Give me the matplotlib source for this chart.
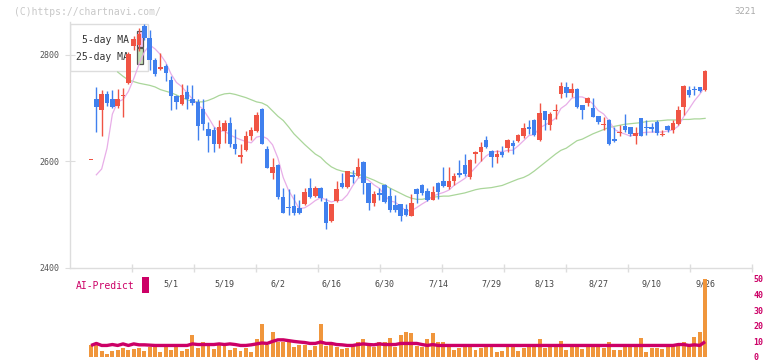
import numpy as np
import pandas as pd
import matplotlib
matplotlib.use("Agg")
import matplotlib.pyplot as plt
from matplotlib.patches import Rectangle

# ---------------- data ----------------
opens = [2603, 2717, 2697, 2727, 2717, 2704, 2723, 2747, 2816, 2818,
         2854, 2831, 2791, 2774, 2779, 2753, 2723, 2708, 2731, 2717,
         2712, 2699, 2661, 2659, 2633, 2657, 2672, 2633, 2609, 2622,
         2647, 2658, 2699, 2623, 2579, 2594, 2534, 2515, 2516, 2513,
         2520, 2550, 2536, 2550, 2524, 2488, 2526, 2560, 2552, 2574,
         2573, 2599, 2559, 2522, 2540, 2556, 2536, 2518, 2520, 2511,
         2498, 2548, 2555, 2545, 2528, 2560, 2563, 2552, 2564, 2579,
         2593, 2570, 2614, 2618, 2640, 2620, 2609, 2618, 2626, 2634,
         2639, 2648, 2665, 2678, 2640, 2694, 2669, 2695, 2726, 2739,
         2728, 2737, 2706, 2710, 2701, 2685, 2669, 2678, 2642, 2654,
         2667, 2664, 2647, 2681, 2664, 2664, 2675, 2650, 2667, 2659,
         2670, 2703, 2734, 2737, 2739, 2734]
highs = [2603, 2740, 2734, 2732, 2734, 2736, 2738, 2805, 2835, 2850,
         2858, 2847, 2795, 2804, 2783, 2761, 2725, 2745, 2744, 2744,
         2718, 2717, 2674, 2665, 2678, 2678, 2684, 2661, 2633, 2658,
         2665, 2693, 2700, 2629, 2607, 2596, 2551, 2548, 2539, 2528,
         2551, 2569, 2554, 2552, 2531, 2521, 2563, 2579, 2583, 2584,
         2607, 2600, 2560, 2545, 2551, 2557, 2550, 2537, 2521, 2520,
         2539, 2550, 2557, 2550, 2554, 2562, 2590, 2590, 2579, 2603,
         2614, 2605, 2620, 2636, 2648, 2622, 2622, 2629, 2642, 2640,
         2652, 2673, 2678, 2680, 2710, 2695, 2693, 2708, 2750, 2750,
         2748, 2738, 2707, 2722, 2719, 2686, 2684, 2679, 2665, 2668,
         2689, 2665, 2664, 2682, 2678, 2672, 2677, 2660, 2669, 2678,
         2704, 2743, 2742, 2742, 2740, 2771]
lows = [2603, 2655, 2648, 2705, 2701, 2700, 2684, 2745, 2810, 2808,
        2828, 2772, 2760, 2771, 2752, 2697, 2699, 2706, 2699, 2706,
        2640, 2659, 2618, 2617, 2625, 2635, 2627, 2614, 2598, 2620,
        2641, 2655, 2632, 2587, 2567, 2530, 2503, 2500, 2500, 2502,
        2518, 2531, 2534, 2525, 2473, 2487, 2524, 2550, 2550, 2560,
        2571, 2539, 2508, 2517, 2528, 2522, 2506, 2506, 2489, 2498,
        2497, 2523, 2537, 2526, 2527, 2530, 2552, 2549, 2555, 2571,
        2572, 2568, 2598, 2601, 2626, 2590, 2598, 2608, 2618, 2614,
        2637, 2645, 2651, 2648, 2638, 2659, 2660, 2679, 2719, 2722,
        2722, 2700, 2679, 2705, 2683, 2670, 2660, 2631, 2637, 2648,
        2655, 2647, 2633, 2647, 2650, 2655, 2650, 2648, 2656, 2654,
        2668, 2687, 2722, 2724, 2731, 2732]
closes = [2603, 2702, 2727, 2710, 2703, 2717, 2725, 2802, 2830, 2840,
          2832, 2791, 2764, 2777, 2766, 2723, 2712, 2725, 2717, 2710,
          2667, 2670, 2648, 2633, 2665, 2672, 2633, 2623, 2612, 2648,
          2659, 2687, 2633, 2588, 2590, 2534, 2504, 2512, 2504, 2503,
          2542, 2534, 2550, 2531, 2485, 2520, 2548, 2552, 2582, 2570,
          2590, 2559, 2522, 2539, 2538, 2524, 2508, 2508, 2498, 2500,
          2523, 2539, 2541, 2528, 2543, 2543, 2554, 2563, 2573, 2575,
          2576, 2603, 2617, 2628, 2628, 2609, 2614, 2613, 2640, 2630,
          2650, 2662, 2661, 2650, 2692, 2678, 2689, 2697, 2742, 2728,
          2737, 2703, 2696, 2720, 2684, 2675, 2671, 2633, 2639, 2656,
          2659, 2651, 2654, 2648, 2662, 2661, 2653, 2652, 2659, 2672,
          2697, 2742, 2724, 2735, 2733, 2770]

# 5-day MA values shown before enough closes exist in this window
ma5_head = [np.nan, 2575, 2586, 2625]

# 25-day MA (line begins at 6th candle)
ma25 = [np.nan, np.nan, np.nan, np.nan, np.nan, 2768, 2760, 2753, 2750, 2747,
        2745, 2743, 2740, 2735, 2732, 2729, 2725, 2720, 2716, 2713,
        2712, 2712, 2715, 2719, 2724, 2727, 2728, 2726, 2723, 2720,
        2716, 2712, 2710, 2705, 2695, 2685, 2677, 2665, 2652, 2642,
        2632, 2623, 2614, 2608, 2598, 2590, 2585, 2582, 2580, 2578,
        2576, 2573, 2569, 2565, 2560, 2556, 2550, 2545, 2540, 2535,
        2531, 2529, 2529, 2531, 2533, 2534, 2535, 2535, 2537, 2539,
        2541, 2544, 2547, 2549, 2550, 2551, 2553, 2555, 2559, 2563,
        2567, 2570, 2575, 2582, 2590, 2598, 2606, 2614, 2621, 2625,
        2632, 2639, 2642, 2647, 2652, 2656, 2660, 2664, 2666, 2668,
        2670, 2671, 2672, 2673, 2675, 2676, 2676, 2677, 2678, 2678,
        2678, 2679, 2679, 2680, 2680, 2681]

volume = [7.4, 8.0, 3.6, 1.7, 3.6, 4.4, 5.5, 4.4, 5.1, 5.5,
          3.6, 6.6, 6.1, 3.0, 6.6, 4.2, 6.6, 3.6, 4.9, 14.4,
          5.5, 9.9, 7.2, 4.9, 7.4, 7.4, 4.4, 5.5, 3.6, 5.5,
          3.0, 11.8, 21.3, 8.0, 16.3, 9.3, 9.9, 9.9, 6.1, 8.0,
          8.0, 4.4, 6.8, 21.3, 6.8, 8.0, 6.1, 4.9, 5.5, 8.0,
          9.9, 11.8, 8.0, 6.6, 9.3, 9.9, 12.4, 6.6, 14.4, 16.3,
          15.4, 7.0, 6.6, 11.8, 15.6, 9.9, 9.3, 6.6, 4.2, 5.5,
          7.4, 7.4, 4.2, 5.5, 6.8, 6.8, 3.0, 3.6, 7.4, 7.4,
          3.6, 5.5, 6.8, 6.8, 11.8, 5.5, 6.8, 6.8, 10.5, 4.2,
          6.8, 6.8, 4.9, 6.8, 6.8, 6.8, 5.5, 9.9, 4.2, 4.2,
          6.8, 6.8, 6.8, 12.4, 3.0, 5.5, 5.5, 4.9, 6.8, 6.8,
          6.8, 9.3, 8.6, 13.1, 16.3, 49.8]

ai_line = [7.4, 8.7, 7.4, 7.4, 8.0, 7.4, 8.4, 7.4, 8.4, 7.8,
           7.8, 7.6, 7.4, 7.4, 7.4, 7.4, 7.4, 7.4, 7.4, 8.4,
           8.0, 8.0, 8.0, 8.0, 8.4, 8.0, 8.4, 8.0, 7.4, 7.4,
           7.8, 8.4, 9.0, 8.7, 10.0, 11.0, 11.0, 10.5, 10.0, 9.6,
           9.3, 8.7, 8.7, 9.6, 8.7, 8.7, 8.0, 7.8, 7.4, 7.4,
           8.0, 8.4, 8.0, 7.8, 8.4, 8.0, 8.0, 8.0, 8.7, 8.7,
           8.7, 8.7, 8.0, 7.4, 8.0, 7.4, 7.4, 7.4, 7.4, 7.4,
           7.4, 7.4, 7.4, 7.4, 7.4, 7.4, 7.4, 7.4, 7.4, 7.4,
           7.4, 7.4, 7.4, 7.4, 7.4, 7.4, 7.4, 7.4, 7.4, 7.4,
           7.4, 7.4, 7.4, 7.4, 7.4, 7.4, 7.4, 7.4, 7.4, 7.4,
           7.4, 7.4, 7.4, 7.4, 7.4, 7.4, 7.4, 7.4, 7.4, 7.4,
           8.0, 8.0, 7.4, 7.8, 7.4, 9.8]

tick_idx = [15, 25, 35, 45, 55, 65, 75, 85, 95, 105, 115]
tick_labels = ["5/1", "5/19", "6/2", "6/16", "6/30", "7/14", "7/29",
               "8/13", "8/27", "9/10", "9/26"]
price_ticks = [2400, 2600, 2800]
vol_ticks = [0, 10, 20, 30, 40, 50]

# ---------------- styling ----------------
W, H = 772, 361
RED = "#f05444"
BLUE = "#4080ee"
MAG = "#cc0066"
MONO = "DejaVu Sans Mono"

o = np.array(opens, float); h = np.array(highs, float)
l = np.array(lows, float); c = np.array(closes, float)
n = len(c)
idx = np.arange(n)

ma5 = pd.Series(c).rolling(5).mean().to_numpy()
ma5[:len(ma5_head)] = ma5_head

fig = plt.figure(figsize=(W / 100, H / 100), dpi=100)

def fx(px):
    return px / W

def fy(py):
    return 1 - py / H

# pixel layout: axes spans x 70..752, candle 0 at x=91, 5.34 px per candle
x0_px, x1_px, c0_px, step_px = 70, 752, 91, 5.34
xlim = ((x0_px - c0_px) / step_px, (x1_px - c0_px) / step_px)

ax = fig.add_axes([fx(70), fy(268), fx(682), 246 / H])
ax.patch.set_visible(False)
ax.set_xlim(*xlim)
ax.set_ylim(2400, 2400 + 246 / 0.5325)

# legend box (beneath chart marks)
ax.add_patch(Rectangle((fx(70), fy(71)), fx(78), 47 / H, transform=fig.transFigure,
                       facecolor="white", edgecolor="#dddddd", lw=1, zorder=1))
ax.text(fx(129), fy(40), "5-day MA", transform=fig.transFigure, ha="right", va="center",
        fontsize=7, family=MONO, color="#333333", zorder=2)
ax.text(fx(129), fy(57), "25-day MA", transform=fig.transFigure, ha="right", va="center",
        fontsize=7, family=MONO, color="#333333", zorder=2)
ax.add_patch(Rectangle((fx(137), fy(46.5)), fx(5.5), 15.5 / H, transform=fig.transFigure,
                       facecolor="#f2c4f2", edgecolor="#555555", lw=0.9, zorder=2))
ax.add_patch(Rectangle((fx(137), fy(63.5)), fx(5.5), 15.5 / H, transform=fig.transFigure,
                       facecolor="#c4e2b4", edgecolor="#555555", lw=0.9, zorder=2))

# moving averages
ax.plot(idx, ma25, color="#aad69a", lw=0.9, zorder=3)
ax.plot(idx, ma5, color="#e8aee8", lw=0.9, zorder=3)

# candles
colors = [RED if cc >= oo else BLUE for oo, cc in zip(o, c)]
ax.vlines(idx, l, h, colors=colors, lw=1.0, zorder=4)
bottom = np.minimum(o, c)
height = np.maximum(np.abs(c - o), 2.0)
ax.bar(idx, height, bottom=bottom, width=0.84, color=colors, zorder=5, linewidth=0)

# axes styling
for s in ("top", "right"):
    ax.spines[s].set_visible(False)
for s in ("left", "bottom"):
    ax.spines[s].set_color("#dddddd")
    ax.spines[s].set_linewidth(1)
ax.set_yticks(price_ticks)
ax.set_yticklabels([str(t) for t in price_ticks])
ax.tick_params(axis="y", direction="inout", length=6.5, color="#dddddd", pad=4,
               labelsize=6, labelcolor="#555555")
for t in ax.get_yticklabels():
    t.set_family(MONO)
ax.set_xticks(tick_idx)
ax.set_xticklabels(tick_labels)
ax.tick_params(axis="x", which="major", length=0, pad=8, labelsize=6, labelcolor="#444444")
for t in ax.get_xticklabels():
    t.set_family(MONO)
# fixed-interval small tick marks along the bottom axis
minor = [xlim[0] + k * (xlim[1] - xlim[0]) / 11 for k in range(1, 12)]
ax.set_xticks(minor, minor=True)
ax.tick_params(axis="x", which="minor", direction="inout", length=6, color="#dddddd", width=1)

# volume panel (drawn after the price panel, transparent background)
vax = fig.add_axes([fx(70), fy(357), fx(682), 78 / H])
vax.patch.set_visible(False)
vax.set_xlim(*xlim)
vax.set_ylim(0, 50)
vax.bar(idx, volume, width=0.74, color="#f0963c", linewidth=0, zorder=2, clip_on=False)
vax.plot(idx, ai_line, color=MAG, lw=2.4, zorder=3, solid_capstyle="butt")
for s in vax.spines.values():
    s.set_visible(False)
vax.set_xticks([])
vax.yaxis.tick_right()
vax.set_yticks(vol_ticks)
vax.set_yticklabels([str(t) for t in vol_ticks])
vax.tick_params(axis="y", length=0, pad=1, labelsize=6, labelcolor=MAG)
for t in vax.get_yticklabels():
    t.set_family(MONO)
    t.set_fontweight("bold")

# header texts
fig.text(fx(14), fy(12), "(C)https://chartnavi.com/", ha="left", va="center",
         fontsize=7, family=MONO, color="#c8c8c8")
fig.text(fx(756), fy(12), "3221", ha="right", va="center",
         fontsize=6.5, family=MONO, color="#aaaaaa")
fig.text(fx(76), fy(286), "AI-Predict", ha="left", va="center",
         fontsize=7, family=MONO, color=MAG)
fig.patches.append(Rectangle((fx(142), fy(293)), fx(7), 16 / H, transform=fig.transFigure,
                             facecolor=MAG, edgecolor="none", figure=fig))

fig.savefig("out.png", dpi=100, facecolor="white")
